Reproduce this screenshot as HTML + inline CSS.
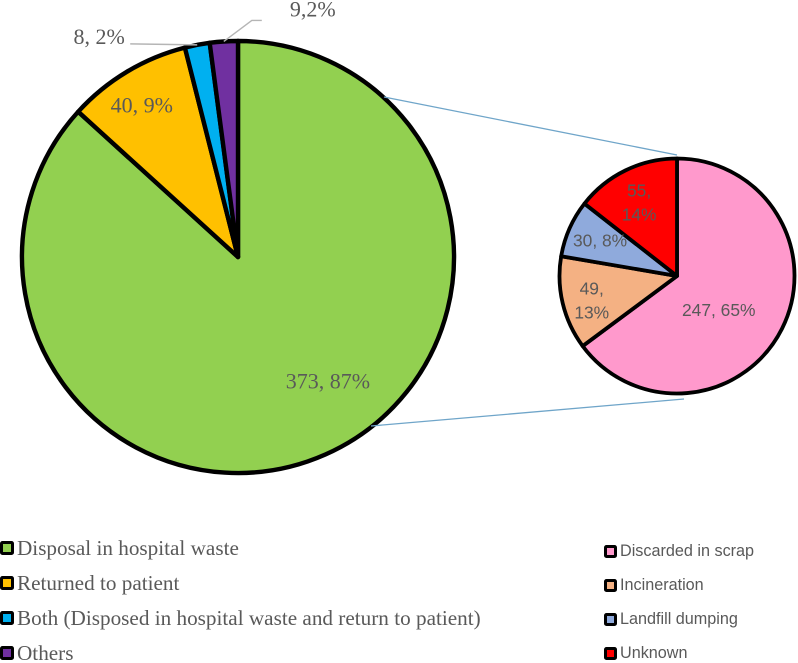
<!DOCTYPE html>
<html lang="en">
<head>
<meta charset="utf-8">
<title>Disposal of medicines pie-of-pie chart</title>
<style>
html,body{margin:0;padding:0;background:#fff;width:798px;height:663px;overflow:hidden}
svg{display:block}
.serif{font-family:"Liberation Serif",serif;fill:#595959}
.sans{font-family:"Liberation Sans",sans-serif;fill:#595959}
</style>
</head>
<body>
<svg id="chart" xmlns="http://www.w3.org/2000/svg" width="798" height="663" viewBox="0 0 798 663">
  <g id="main-pie"></g>
  <line x1="384" y1="97" x2="677" y2="155" stroke="#6fa5c9" stroke-width="1.3"/>
  <line x1="371" y1="426" x2="684" y2="399" stroke="#6fa5c9" stroke-width="1.3"/>
  <g id="detail-pie"></g>
  <g id="main-legend"></g>
  <g id="detail-legend"></g>
</svg>
<script>
const mainCategories = ["Disposal in hospital waste", "Returned to patient", "Both (Disposed in hospital waste and return to patient)", "Others"];
const mainValues = [373, 40, 8, 9];
const mainLabels = [["373, 87%"], ["40, 9%"], ["8, 2%"], ["9,2%"]];

const detailCategories = ["Discarded in scrap", "Incineration", "Landfill dumping", "Unknown"];
const detailValues = [247, 49, 30, 55];
const detailLabels = [["247, 65%"], ["49,", "13%"], ["30, 8%"], ["55,", "14%"]];

const mainColors = ["#92d050", "#ffc000", "#00b0f0", "#7030a0"];
const detailColors = ["#ff99cc", "#f4b183", "#8faadc", "#ff0000"];

const mainGeom = {cx: 238, cy: 257, r: 216, sw: 4.4};
const detailGeom = {cx: 677, cy: 276, r: 117.5, sw: 3.8};
const mainLabelPlace = [
  {f: 0.64, dx: 34, dy: -2},
  {f: 0.82, dx: -5, dy: 0},
  {f: 1, dx: -98, dy: -8},
  {f: 1, dx: 89, dy: -32}
];
const detailLabelPlace = [
  {f: 0.55, dx: -16, dy: 5},
  {f: 0.72, dx: -3, dy: 5},
  {f: 0.66, dx: -6, dy: -4},
  {f: 0.6, dx: -7, dy: -10}
];
const mainLeaders = [null, null, [[0, 0], [-67, -1]], [[0, 0], [28, -21], [38, -21]]];
const SVG_NS = "http://www.w3.org/2000/svg";

function angleToPoint(g, deg, rad) {
  const a = deg * Math.PI / 180;
  return [g.cx + rad * Math.sin(a), g.cy - rad * Math.cos(a)];
}
function sliceAngles(values) {
  const total = values.reduce((s, v) => s + v, 0);
  let running = 0;
  return values.map(v => {
    const start = running / total * 360;
    running += v;
    return [start, running / total * 360];
  });
}
function slicePath(g, a0, a1) {
  const p0 = angleToPoint(g, a0, g.r);
  const p1 = angleToPoint(g, a1, g.r);
  const large = a1 - a0 > 180 ? 1 : 0;
  return `M${g.cx} ${g.cy}L${p0[0]} ${p0[1]}A${g.r} ${g.r} 0 ${large} 1 ${p1[0]} ${p1[1]}Z`;
}
function drawPie(parent, g, values, colors, cats, labels, place, cls, size, lh, leaders) {
  const angles = sliceAngles(values);
  values.forEach((v, i) => {
    const path = document.createElementNS(SVG_NS, "path");
    path.setAttribute("d", slicePath(g, angles[i][0], angles[i][1]));
    path.setAttribute("fill", colors[i]);
    path.setAttribute("stroke", "#000");
    path.setAttribute("stroke-width", g.sw);
    path.setAttribute("stroke-linejoin", "round");
    
    
    parent.appendChild(path);
  });
  values.forEach((v, i) => {
    const mid = (angles[i][0] + angles[i][1]) / 2;
    const anchor = angleToPoint(g, mid, g.r * place[i].f);
    if (leaders && leaders[i]) {
      const rim = angleToPoint(g, mid, g.r);
      const line = document.createElementNS(SVG_NS, "polyline");
      line.setAttribute("points", leaders[i].map(o => (rim[0] + o[0]) + "," + (rim[1] + o[1])).join(" "));
      line.setAttribute("fill", "none");
      line.setAttribute("stroke", "#b5b5b5");
      line.setAttribute("stroke-width", "1.4");
      
      
      parent.appendChild(line);
    }
    const lines = labels[i];
    lines.forEach((txt, j) => {
      const t = document.createElementNS(SVG_NS, "text");
      t.setAttribute("x", anchor[0] + place[i].dx);
      t.setAttribute("y", anchor[1] + place[i].dy + (j - (lines.length - 1) / 2) * lh + size * 0.33);
      t.setAttribute("text-anchor", "middle");
      t.setAttribute("class", cls);
      t.style.fontSize = size + "px";
      t.textContent = txt;
      
      
      parent.appendChild(t);
    });
  });
}
function drawLegend(parent, cats, colors, x, y0, step, box, drop, cls, size, textX) {
  cats.forEach((c, i) => {
    const y = y0 + i * step;
    const r = document.createElementNS(SVG_NS, "rect");
    r.setAttribute("x", x + 1.5);
    r.setAttribute("y", y + drop - box + 1.5);
    r.setAttribute("width", box - 3);
    r.setAttribute("height", box - 3);
    r.setAttribute("rx", 1);
    r.setAttribute("fill", colors[i]);
    r.setAttribute("stroke", "#000");
    r.setAttribute("stroke-width", 3);
    
    
    parent.appendChild(r);
    const t = document.createElementNS(SVG_NS, "text");
    t.setAttribute("x", textX);
    t.setAttribute("y", y);
    t.setAttribute("class", cls);
    t.style.fontSize = size + "px";
    t.textContent = c;
    
    
    parent.appendChild(t);
  });
}
drawPie(document.getElementById("main-pie"), mainGeom, mainValues, mainColors, mainCategories, mainLabels, mainLabelPlace, "serif", 22, 24, mainLeaders);
drawPie(document.getElementById("detail-pie"), detailGeom, detailValues, detailColors, detailCategories, detailLabels, detailLabelPlace, "sans", 17.4, 24, null);
drawLegend(document.getElementById("main-legend"), mainCategories, mainColors, 0, 555, 35, 14, 0, "serif", 21.2, 17);
drawLegend(document.getElementById("detail-legend"), detailCategories, detailColors, 604, 556, 34, 13, 2, "sans", 16.2, 620);
</script>
</body>
</html>
